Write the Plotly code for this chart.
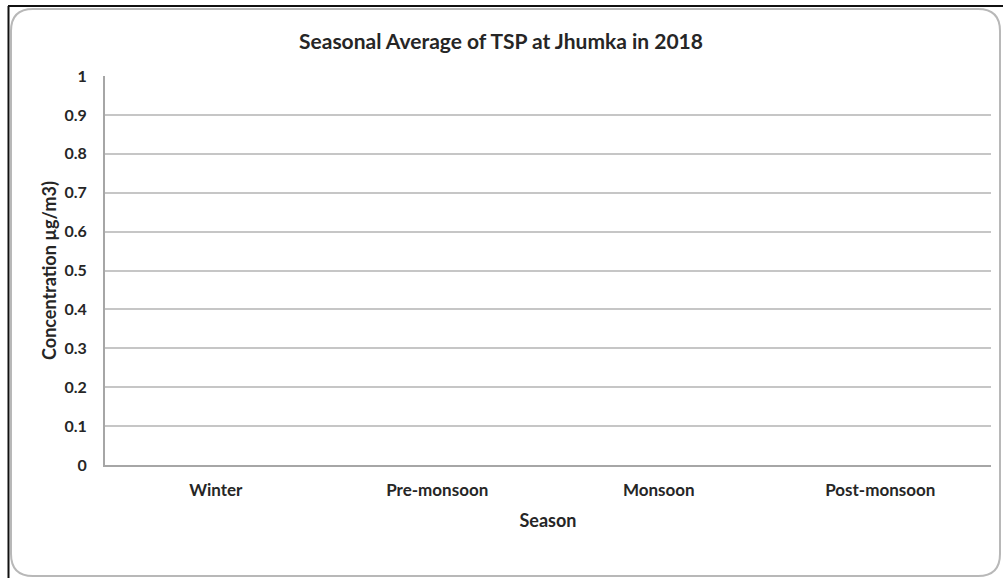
import plotly.graph_objects as go

seasons = ["Winter", "Pre-monsoon", "Monsoon", "Post-monsoon"]
tsp_values = [None, None, None, None]  # no data plotted in the reference
y_ticks = [0, 0.1, 0.2, 0.3, 0.4, 0.5, 0.6, 0.7, 0.8, 0.9, 1]
y_tick_text = ["0", "0.1", "0.2", "0.3", "0.4", "0.5", "0.6", "0.7", "0.8", "0.9", "1"]

W, H = 1003, 578
ML, MR, MT, MB = 105, 12, 76, 113
PW, PH = W - ML - MR, H - MT - MB

def px(x):
    return (x - ML) / PW

def py(y):
    return (H - MB - y) / PH

font_family = "Lato, Open Sans, sans-serif"
txt = "#262626"

fig = go.Figure()
fig.add_trace(go.Bar(x=seasons, y=tsp_values, marker_color="#4f81bd", showlegend=False))

# rounded grey border
x0, y0, x1, y1, r = 11, 9, 1000, 576, 22
path = (
    f"M {px(x0 + r)},{py(y0)} L {px(x1 - r)},{py(y0)} "
    f"Q {px(x1)},{py(y0)} {px(x1)},{py(y0 + r)} "
    f"L {px(x1)},{py(y1 - r)} Q {px(x1)},{py(y1)} {px(x1 - r)},{py(y1)} "
    f"L {px(x0 + r)},{py(y1)} Q {px(x0)},{py(y1)} {px(x0)},{py(y1 - r)} "
    f"L {px(x0)},{py(y0 + r)} Q {px(x0)},{py(y0)} {px(x0 + r)},{py(y0)} Z"
)
shapes = [
    dict(type="path", xref="paper", yref="paper", path=path,
         line=dict(color="#b8b8b8", width=2), layer="below"),
    dict(type="line", xref="paper", yref="paper", x0=px(8), x1=px(1003), y0=py(6), y1=py(6),
         line=dict(color="#111111", width=2)),
    dict(type="line", xref="paper", yref="paper", x0=px(8.5), x1=px(8.5), y0=py(6), y1=py(578),
         line=dict(color="#111111", width=2)),
]

fig.update_layout(
    width=W, height=H,
    margin=dict(l=ML, r=MR, t=MT, b=MB, autoexpand=False),
    paper_bgcolor="white", plot_bgcolor="white",
    shapes=shapes,
    title=dict(text="Seasonal Average of TSP at Jhumka in 2018",
               x=px(501), xref="paper", xanchor="center",
               y=1 - 42 / H, yanchor="middle",
               font=dict(family=font_family, size=21, color=txt, weight="bold")),
    xaxis=dict(
        type="category", categoryorder="array", categoryarray=seasons,
        range=[-0.5, 3.5], showgrid=False, zeroline=False,
        showline=True, linecolor="#a6a6a6", linewidth=2, mirror=False,
        ticks="", ticklabelstandoff=9,
        tickfont=dict(family=font_family, size=17, color=txt, weight="bold"),
        title=dict(text="Season", standoff=15,
                   font=dict(family=font_family, size=18, color=txt, weight="bold")),
        automargin=False, fixedrange=True,
    ),
    yaxis=dict(
        range=[0, 1], tickvals=y_ticks, ticktext=y_tick_text,
        showgrid=True, gridcolor="#c6c6c6", gridwidth=1.5,
        zeroline=False, showline=True, linecolor="#a6a6a6", linewidth=2,
        ticks="", ticklabelstandoff=13,
        tickfont=dict(family=font_family, size=16, color=txt, weight="bold"),
        title=dict(text="Concentration µg/m3)", standoff=3,
                   font=dict(family=font_family, size=18, color=txt, weight="bold")),
        automargin=False, fixedrange=True,
    ),
)

fig.write_html("out.html", post_script="document.body.style.margin='0';",
               config={"displayModeBar": False})
